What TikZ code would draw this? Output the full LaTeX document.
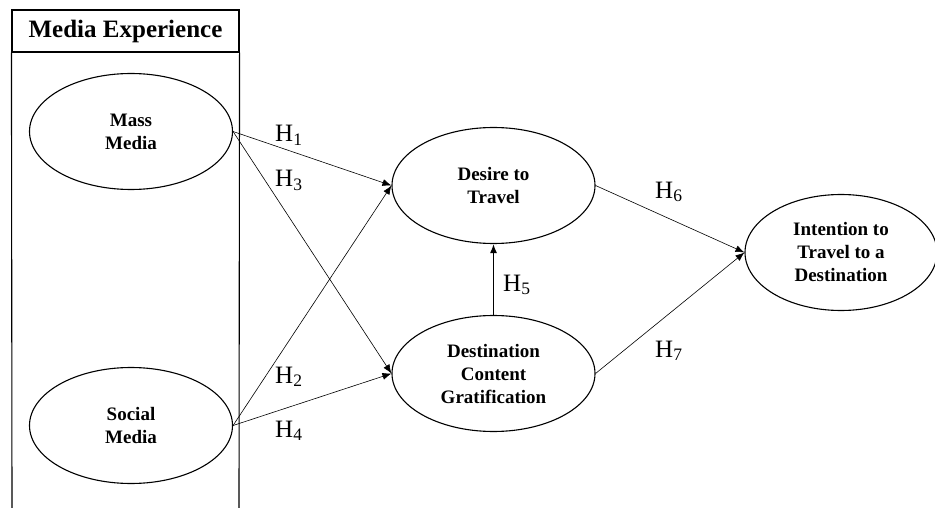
\documentclass[tikz,border=0pt]{standalone}
\usepackage{fontspec}
\setmainfont{Liberation Serif}
\usetikzlibrary{arrows.meta,positioning,shapes.geometric}
\begin{document}
\begin{tikzpicture}[x=1pt,y=-1pt,
every node/.style={font=\fontsize{19}{23}\selectfont},
construct/.style={ellipse,draw,line width=1.1pt,minimum width=203pt,minimum height=116pt,inner sep=0pt,align=center,font=\fontsize{19}{23}\selectfont\bfseries},
head/.style={draw,line width=1.1pt,minimum width=227pt,minimum height=42pt,inner sep=0pt,font=\fontsize{25}{30}\selectfont\bfseries},
hyp/.style={font=\fontsize{25}{30}\selectfont,inner sep=0pt,anchor=base west},
arr/.style={-{Latex[length=9pt,width=7pt]},line width=0.6pt},
arrthick/.style={-{Latex[length=9pt,width=7pt]},line width=1.2pt}
]
\useasboundingbox (0,0) rectangle (935,508);
\node[head] (media) at (125.5,31) {Media Experience};
\coordinate (mediabl) at (12,508);
\coordinate (mediabr) at (239,508);
\draw[line width=1.1pt] (media.south west) -- (mediabl);
\draw[line width=1.1pt] (media.south east) -- (mediabr);

\node[construct] (mass)   at (131,131.5) {Mass\\Media};
\node[construct] (social) at (131,425.5) {Social\\Media};
\node[construct] (desire) at (493.5,185.5) {Desire to\\Travel};
\node[construct] (dcg)    at (493.5,373.5) {Destination\\Content\\Gratification};
\node[construct,minimum width=192pt] (intent) at (841,252.5) {Intention to\\Travel to a\\Destination};

\draw[arr] (mass.east) -- (desire.west);
\draw[arr] (mass.east) -- (dcg.west);
\draw[arr] (social.east) -- (desire.west);
\draw[arr] (social.east) -- (dcg.west);
\draw[arrthick] (dcg.north) -- (desire.south);
\draw[arr] (desire.east) -- (intent.west);
\draw[arr] (dcg.east) -- (intent.west);

\node[hyp] (h1) at (275,142) {H\textsubscript{1}};
\node[hyp] (h3) at (275,187) {H\textsubscript{3}};
\node[hyp] (h2) at (275,383) {H\textsubscript{2}};
\node[hyp] (h4) at (275,437) {H\textsubscript{4}};
\node[hyp] (h5) at (503,291) {H\textsubscript{5}};
\node[hyp] (h6) at (655,198) {H\textsubscript{6}};
\node[hyp] (h7) at (655,357) {H\textsubscript{7}};
\end{tikzpicture}
\end{document}
